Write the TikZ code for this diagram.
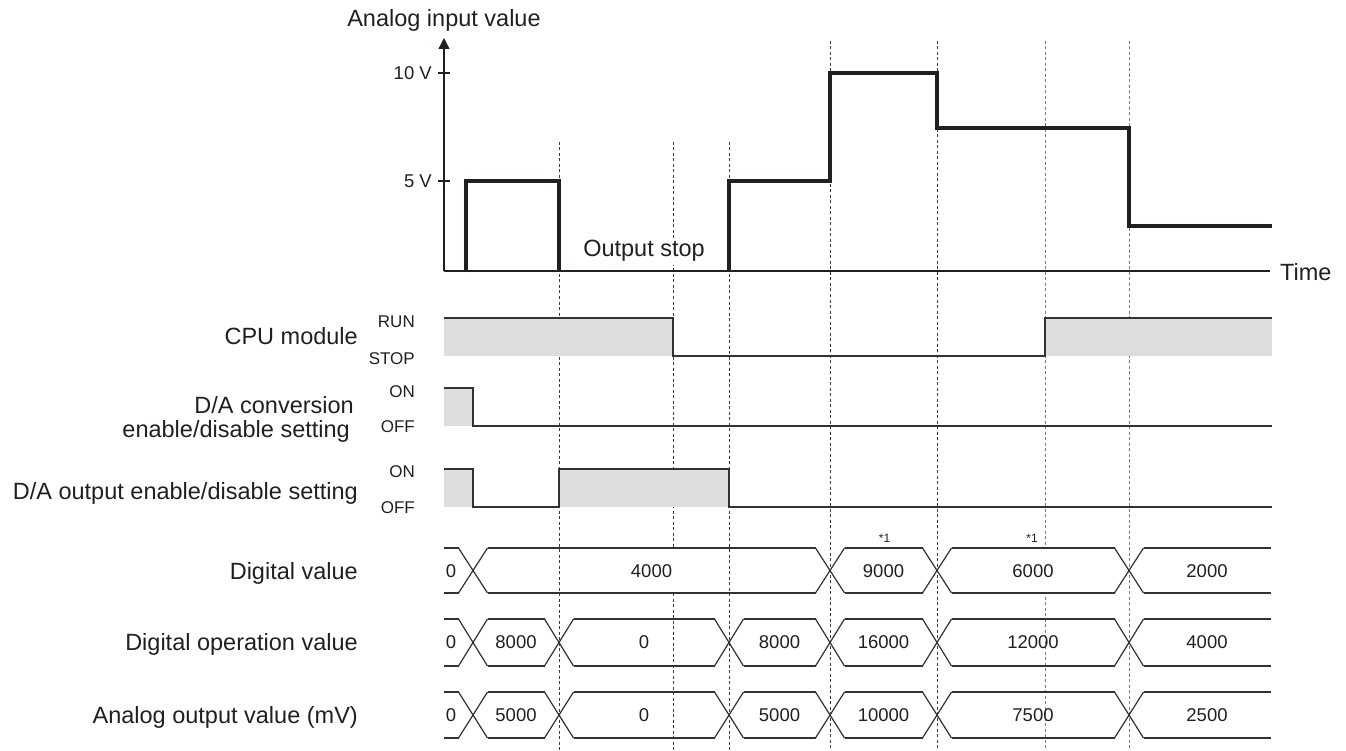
\documentclass[tikz,border=0pt]{standalone}
\usepackage{fontspec}
\setmainfont{Liberation Sans}
\usetikzlibrary{arrows.meta}
\definecolor{ink}{RGB}{35,31,32}
\definecolor{fillgray}{RGB}{220,221,223}
\definecolor{lineink}{RGB}{50,50,50}
\definecolor{dashink}{RGB}{60,60,60}
\definecolor{dashlight}{RGB}{125,125,125}
\begin{document}
\begin{tikzpicture}[x=1pt,y=-1pt,
  lbl/.style={font=\fontsize{23.5}{28}\selectfont, text=ink, inner sep=0pt},
  small/.style={font=\fontsize{17}{20}\selectfont, text=ink, inner sep=0pt},
  val/.style={font=\fontsize{18.5}{22}\selectfont, text=ink, inner sep=0pt},
  note/.style={font=\fontsize{12}{14}\selectfont, text=ink, inner sep=0pt},
  axisline/.style={line width=1.4pt, draw=ink},
  sig/.style={line width=3.5pt, draw=ink, line join=miter},
  lvl/.style={line width=1.3pt, draw=lineink, line join=miter},
  shade/.style={fill=fillgray, draw=none},
  bus/.style={line width=1.2pt, draw=lineink},
  guide/.style={line width=0.9pt, draw=dashink, dash pattern=on 3pt off 2.5pt},
  guidelight/.style={guide, draw=dashlight},
]
\useasboundingbox (0,0) rectangle (1346,751);

% ---------- dashed guide lines ----------
\draw[guide] (559,142) -- (559,751);
\draw[guide] (673,142) -- (673,751);
\draw[guide] (729,142) -- (729,751);
\draw[guide] (830,41) -- (830,751);
\draw[guide] (937,41) -- (937,751);
\draw[guidelight] (1045,41) -- (1045,751);
\draw[guidelight] (1129,41) -- (1129,751);

% ---------- analog input graph ----------
\coordinate (o) at (444,271);
\coordinate (ytop) at (444,38);
\coordinate (xend) at (1270,271);
\draw[axisline, -{Triangle[length=11pt,width=11pt]}] (o) -- (ytop);
\draw[axisline] (o) -- (xend);
\draw[axisline] (438,73) -- (450,73);
\draw[axisline] (438,181) -- (450,181);
\node[lbl, anchor=base] (ttl) at (444,27) {Analog input value};
\node[val, anchor=east] (v10) at (432,73) {10 V};
\node[val, anchor=east] (v5) at (432,181) {5 V};
\node[lbl, anchor=west] (time) at (1280,272) {Time};
\node[lbl, anchor=base, fill=white, inner sep=3pt] (ostop) at (644,257) {Output stop};

\draw[sig] (466,271) -- (466,181) -- (559,181) -- (559,271);
\draw[sig] (729,271) -- (729,181) -- (830,181) -- (830,73) -- (937,73)
  -- (937,128) -- (1129,128) -- (1129,226) -- (1272,226);

% ---------- CPU module ----------
\node[lbl, anchor=base east] (cpu) at (358,344) {CPU module};
\node[small, anchor=base east] (run) at (415,327) {RUN};
\node[small, anchor=base east] (stop) at (415,364) {STOP};
\fill[shade] (444,318) rectangle (673,356);
\fill[shade] (1045,318) rectangle (1272,356);
\draw[lvl] (444,318) -- (673,318) -- (673,356) -- (1045,356) -- (1045,318) -- (1272,318);

% ---------- D/A conversion ----------
\node[lbl, anchor=base east] (dac1) at (354,413) {D/A conversion};
\node[lbl, anchor=base east] (dac2) at (350,437) {enable/disable setting};
\node[small, anchor=base east] (on1) at (415,397) {ON};
\node[small, anchor=base east] (off1) at (415,432) {OFF};
\fill[shade] (444,388) rectangle (473,426);
\draw[lvl] (444,388) -- (473,388) -- (473,426) -- (1272,426);

% ---------- D/A output ----------
\node[lbl, anchor=base east] (dao) at (358,499) {D/A output enable/disable setting};
\node[small, anchor=base east] (on2) at (415,477) {ON};
\node[small, anchor=base east] (off2) at (415,513) {OFF};
\fill[shade] (444,469) rectangle (473,507);
\fill[shade] (559,469) rectangle (729,507);
\draw[lvl] (444,469) -- (473,469) -- (473,507) -- (559,507) -- (559,469)
  -- (729,469) -- (729,507) -- (1272,507);

% ---------- bus rows labels ----------
\node[lbl, anchor=base east] (dv) at (358,579) {Digital value};
\node[lbl, anchor=base east] (dov) at (358,650) {Digital operation value};
\node[lbl, anchor=base east] (aov) at (358,723) {Analog output value (mV)};

% ---------- Digital value row (548/593) ----------
\node[val] (dv0) at (451,571) {0};
\node[val, fill=white, minimum height=44pt, inner xsep=2pt] (dv1) at (651.5,571) {4000};
\node[val] (dv2) at (883.5,571) {9000};
\node[val, fill=white, minimum height=44pt, inner xsep=2pt] (dv3) at (1033,571) {6000};
\node[val] (dv4) at (1207,571) {2000};
\node[note] (n1) at (884.5,538) {*1};
\node[note] (n2) at (1032,538) {*1};
\foreach \t in {473,830,937,1129}
  \draw[bus] (\t-14.5,548) -- (\t+14.5,593) (\t-14.5,593) -- (\t+14.5,548);
\foreach \a/\b in {444/458.5,487.5/815.5,844.5/922.5,951.5/1114.5,1143.5/1271}
  \draw[bus] (\a,548) -- (\b,548) (\a,593) -- (\b,593);

% ---------- Digital operation value row (619/666) ----------
\node[val] (do0) at (451,642) {0};
\node[val] (do1) at (516,642) {8000};
\node[val] (do2) at (644,642) {0};
\node[val] (do3) at (779.5,642) {8000};
\node[val] (do4) at (883.5,642) {16000};
\node[val] (do5) at (1033,642) {12000};
\node[val] (do6) at (1207,642) {4000};
\foreach \t in {473,559,729,830,937,1129}
  \draw[bus] (\t-14.5,619) -- (\t+14.5,666) (\t-14.5,666) -- (\t+14.5,619);
\foreach \a/\b in {444/458.5,487.5/544.5,573.5/714.5,743.5/815.5,844.5/922.5,951.5/1114.5,1143.5/1271}
  \draw[bus] (\a,619) -- (\b,619) (\a,666) -- (\b,666);

% ---------- Analog output value row (692/738) ----------
\node[val] (ao0) at (451,715) {0};
\node[val] (ao1) at (516,715) {5000};
\node[val] (ao2) at (644,715) {0};
\node[val] (ao3) at (779.5,715) {5000};
\node[val] (ao4) at (883.5,715) {10000};
\node[val] (ao5) at (1033,715) {7500};
\node[val] (ao6) at (1207,715) {2500};
\foreach \t in {473,559,729,830,937,1129}
  \draw[bus] (\t-14.5,692) -- (\t+14.5,738) (\t-14.5,738) -- (\t+14.5,692);
\foreach \a/\b in {444/458.5,487.5/544.5,573.5/714.5,743.5/815.5,844.5/922.5,951.5/1114.5,1143.5/1271}
  \draw[bus] (\a,692) -- (\b,692) (\a,738) -- (\b,738);
\end{tikzpicture}
\end{document}
